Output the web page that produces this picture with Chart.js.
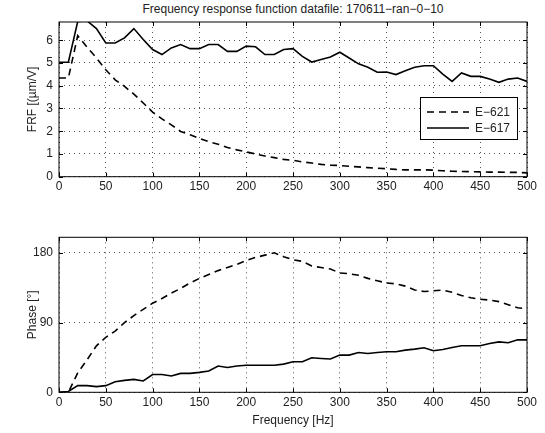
<!DOCTYPE html>
<html>
<head>
<meta charset="utf-8">
<script src="https://cdn.jsdelivr.net/npm/chart.js@4.4.1/dist/chart.umd.min.js"></script>
<style>
  body { margin: 0; background: #fff; }
  #wrap { position: relative; width: 545px; height: 433px; font-family: "Liberation Sans", Arial, sans-serif; }
  #frfBox { position: absolute; left: 0; top: 0; width: 545px; height: 200px; }
  #phaseBox { position: absolute; left: 0; top: 215px; width: 545px; height: 218px; }
  #title { position: absolute; left: 59px; top: 2px; width: 468px; text-align: center; font-size: 12px; color: #222; }
</style>
</head>
<body>
<div id="wrap">
  <div id="title">Frequency response function datafile: 170611−ran−0−10</div>
  <div id="frfBox"><canvas id="frfChart"></canvas></div>
  <div id="phaseBox"><canvas id="phaseChart"></canvas></div>
</div>
<script>
// Frequency axis (Hz)
const freqHz = [0, 10, 20, 30, 40, 50, 60, 70, 80, 90, 100, 110, 120, 130, 140, 150, 160, 170, 180, 190,
  200, 210, 220, 230, 240, 250, 260, 270, 280, 290, 300, 310, 320, 330, 340, 350, 360, 370, 380, 390,
  400, 410, 420, 430, 440, 450, 460, 470, 480, 490, 500];

// FRF magnitude [um/V]
const frfE621 = [4.34, 4.34, 6.2, 5.69, 5.22, 4.7, 4.26, 3.97, 3.63, 3.24, 2.84, 2.54, 2.28, 1.99, 1.84,
  1.68, 1.54, 1.43, 1.28, 1.18, 1.09, 1.0, 0.91, 0.84, 0.76, 0.72, 0.65, 0.6, 0.54, 0.51, 0.49, 0.46,
  0.43, 0.4, 0.37, 0.35, 0.32, 0.3, 0.3, 0.3, 0.29, 0.26, 0.24, 0.23, 0.22, 0.21, 0.2, 0.2, 0.19, 0.19, 0.17];
const frfE617 = [5.03, 5.03, 6.82, 6.85, 6.51, 5.88, 5.88, 6.1, 6.51, 6.03, 5.59, 5.37, 5.66, 5.81, 5.63,
  5.63, 5.81, 5.81, 5.51, 5.51, 5.74, 5.71, 5.37, 5.37, 5.59, 5.63, 5.29, 5.04, 5.15, 5.26, 5.47, 5.22,
  4.96, 4.81, 4.59, 4.6, 4.49, 4.66, 4.81, 4.88, 4.88, 4.51, 4.19, 4.56, 4.41, 4.41, 4.29, 4.15, 4.29, 4.34, 4.19];

// Phase [deg]
const phaseE621 = [0, 0, 25, 42, 60, 71, 79, 90, 99, 107, 115, 121, 128, 134, 141, 147, 152, 157, 161, 165,
  170, 174, 177, 180, 175, 171, 169, 163, 161, 159, 154, 153, 151, 147, 144, 141, 140, 137, 132, 130,
  131, 132, 129, 125, 122, 120, 119, 117, 113, 109, 108];
const phaseE617 = [0, 1, 8.6, 8.6, 7.3, 8.6, 13.7, 15.4, 16.7, 14.6, 23, 23, 21, 24.4, 24.4, 25.7, 27.4,
  33.9, 32, 33.9, 35, 35, 35, 35, 36.4, 39.4, 39.4, 44.6, 43.7, 42.9, 48, 48, 51.4, 50, 51.4, 52.3, 52.3,
  54.4, 55.7, 57.4, 53.6, 55.3, 57.9, 60, 60, 60, 63, 65, 63.9, 67.7, 67.7];

const seriesNames = ['E−621', 'E−617'];
const xTicks = [0, 50, 100, 150, 200, 250, 300, 350, 400, 450, 500];
const frfTicks = [0, 1, 2, 3, 4, 5, 6];
const phaseTicks = [0, 90, 180];

const fontFamily = '"Liberation Sans", Arial, sans-serif';
const tickFont = { family: fontFamily, size: 12 };

function toPoints(values) {
  return freqHz.map((f, i) => ({ x: f, y: values[i] }));
}

// Box around the plot with MATLAB style inward ticks
const boxPlugin = {
  id: 'boxPlugin',
  afterDatasetsDraw(chart) {
    const { ctx, chartArea: a, scales } = chart;
    ctx.save();
    ctx.strokeStyle = '#000';
    ctx.lineWidth = 1;
    ctx.strokeRect(a.left, a.top, a.right - a.left, a.bottom - a.top);
    ctx.beginPath();
    scales.x.ticks.forEach(t => {
      const px = Math.round(scales.x.getPixelForValue(t.value)) + 0.5;
      ctx.moveTo(px, a.bottom); ctx.lineTo(px, a.bottom - 4);
      ctx.moveTo(px, a.top); ctx.lineTo(px, a.top + 4);
    });
    scales.y.ticks.forEach(t => {
      const py = Math.round(scales.y.getPixelForValue(t.value)) + 0.5;
      ctx.moveTo(a.left, py); ctx.lineTo(a.left + 4, py);
      ctx.moveTo(a.right, py); ctx.lineTo(a.right - 4, py);
    });
    ctx.stroke();
    ctx.restore();
  }
};

// Legend box drawn inside the upper plot
const legendPlugin = {
  id: 'legendPlugin',
  afterDraw(chart, args, opts) {
    if (!opts.show) return;
    const { ctx, chartArea: a } = chart;
    const w = 97, h = 42;
    const x0 = a.right - 10 - w, y0 = a.top + 75;
    ctx.save();
    ctx.fillStyle = '#fff';
    ctx.fillRect(x0, y0, w, h);
    ctx.strokeStyle = '#000';
    ctx.lineWidth = 1;
    ctx.strokeRect(x0 + 0.5, y0 + 0.5, w, h);
    chart.data.datasets.forEach((ds, i) => {
      const y = y0 + 15 + i * 16;
      ctx.beginPath();
      ctx.setLineDash(ds.borderDash || []);
      ctx.lineWidth = ds.borderWidth;
      ctx.moveTo(x0 + 7, y);
      ctx.lineTo(x0 + 49, y);
      ctx.stroke();
      ctx.setLineDash([]);
      ctx.fillStyle = '#222';
      ctx.font = '12px ' + fontFamily;
      ctx.textBaseline = 'middle';
      ctx.fillText(ds.label, x0 + 55, y + 1);
    });
    ctx.restore();
  }
};

function makeChart(canvasId, e621, e617, yMax, yTicks, yTitle, opts) {
  const ctx = document.getElementById(canvasId);
  return new Chart(ctx, {
    type: 'line',
    data: {
      datasets: [{
        label: seriesNames[0],
        data: toPoints(e621),
        borderColor: '#000',
        borderWidth: 1.6,
        borderDash: [7, 5],
        pointRadius: 0,
        tension: 0
      }, {
        label: seriesNames[1],
        data: toPoints(e617),
        borderColor: '#000',
        borderWidth: 1.6,
        pointRadius: 0,
        tension: 0
      }]
    },
    options: {
      responsive: true,
      maintainAspectRatio: false,
      animation: false,
      layout: { padding: { left: 0, right: 18, top: opts.padTop, bottom: 0 } },
      plugins: {
        legend: { display: false },
        tooltip: { enabled: false },
        legendPlugin: { show: opts.legend }
      },
      scales: {
        x: {
          type: 'linear',
          min: 0,
          max: 500,
          afterBuildTicks: scale => { scale.ticks = xTicks.map(v => ({ value: v })); },
          afterFit: scale => { scale.height = opts.xHeight; },
          ticks: { color: '#222', font: tickFont, padding: 3, maxRotation: 0 },
          grid: { color: '#555', lineWidth: 1, drawTicks: false },
          border: { display: false, dash: [1, 4] },
          title: {
            display: !!opts.xTitle,
            text: opts.xTitle || '',
            color: '#222',
            font: { family: fontFamily, size: 12 },
            padding: { top: 0, bottom: 5 }
          }
        },
        y: {
          min: 0,
          max: yMax,
          afterBuildTicks: scale => { scale.ticks = yTicks.map(v => ({ value: v })); },
          afterFit: scale => { scale.width = 59; },
          ticks: { color: '#222', font: tickFont, padding: 6 },
          grid: { color: '#555', lineWidth: 1, drawTicks: false },
          border: { display: false, dash: [1, 4] },
          title: {
            display: true,
            text: yTitle,
            color: '#222',
            font: { family: fontFamily, size: 12 },
            padding: { top: 25, bottom: 0 }
          }
        }
      }
    },
    plugins: [boxPlugin, legendPlugin]
  });
}

makeChart('frfChart', frfE621, frfE617, 6.8, frfTicks, 'FRF [(µm/V]',
  { padTop: 22, xHeight: 23.3, legend: true });
makeChart('phaseChart', phaseE621, phaseE617, 200, phaseTicks, 'Phase [°]',
  { padTop: 22.3, xHeight: 40.7, legend: false, xTitle: 'Frequency [Hz]' });
</script>
</body>
</html>
